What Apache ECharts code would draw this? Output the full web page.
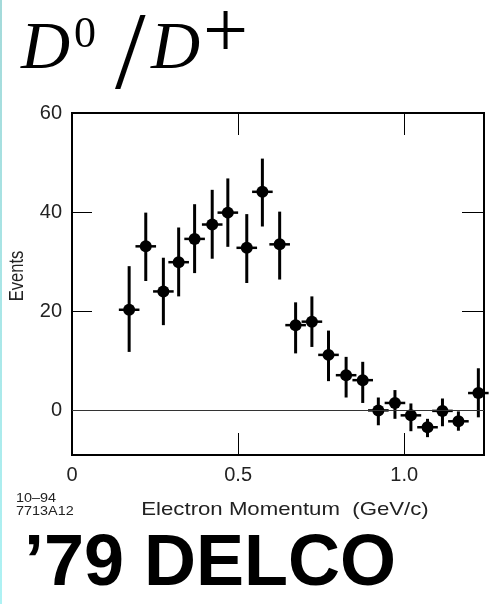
<!DOCTYPE html>
<html>
<head>
<meta charset="utf-8">
<title>D0/D+ electron momentum spectrum — DELCO 1979</title>
<script src="https://cdn.jsdelivr.net/npm/echarts@6/dist/echarts.min.js"></script>
<style>
  html, body { margin: 0; padding: 0; background: #fff; }
  #chart { width: 499px; height: 604px; }
</style>
</head>
<body>
<div id="chart"></div>
<script>
// Electron momentum bin centres (GeV/c)
const momentum = [0.172, 0.222, 0.275, 0.321, 0.369, 0.422, 0.469, 0.526, 0.573, 0.625, 0.673,
                  0.722, 0.772, 0.825, 0.875, 0.922, 0.972, 1.020, 1.070, 1.115, 1.163, 1.223];
// Events per bin
const events   = [20.3, 33.1, 24.0, 29.9, 34.6, 37.5, 39.9, 32.8, 44.1, 33.5, 17.2,
                  17.9, 11.2, 7.1, 6.1, 0.0, 1.5, -1.0, -3.4, -0.1, -2.2, 3.5];
// Upper / lower ends of the error bars
const errHigh  = [29.1, 39.9, 30.8, 36.9, 41.6, 44.5, 46.8, 39.6, 50.8, 40.1, 21.8,
                  23.0, 16.1, 10.8, 9.8, 2.6, 4.1, 1.4, -1.7, 2.4, -0.2, 8.5];
const errLow   = [11.8, 26.1, 17.2, 23.0, 27.7, 30.6, 33.0, 25.7, 37.1, 26.4, 11.5,
                  12.8, 5.9, 2.6, 1.5, -3.0, -1.7, -4.2, -5.4, -3.2, -4.1, -1.4];
// Half width of a momentum bin (GeV/c)
const binHalfWidth = 0.031;

// Axis ticks and labels
const xTickValues  = [0.5, 1.0];
const xLabelValues = [0, 0.5, 1.0];
const yTickValues  = [20, 40];
const yLabelValues = [0, 20, 40, 60];

const chart = echarts.init(document.getElementById('chart'), null, { renderer: 'canvas' });

const sans = '"Liberation Sans", Arial, Helvetica, sans-serif';
const serif = '"Liberation Serif", "Times New Roman", serif';

const errorData = momentum.map((m, i) => [m, errLow[i], errHigh[i], events[i]]);
const pointData = momentum.map((m, i) => [m, events[i]]);

const tickStyle = { color: '#000', width: 1 };
const hiddenLine = { show: false, onZero: false };

const option = {
  backgroundColor: '#fff',
  animation: false,
  grid: {
    left: 72, top: 113, right: 15, bottom: 149,
    show: true, borderColor: '#000', borderWidth: 2, backgroundColor: 'transparent',
    containLabel: false, outerBoundsMode: 'none'
  },
  xAxis: [
    {
      type: 'value', min: 0, max: 1.24, position: 'bottom',
      axisLine: hiddenLine,
      splitLine: { show: false },
      axisTick: { show: true, inside: true, length: 22, customValues: xTickValues, lineStyle: tickStyle },
      axisLabel: {
        show: true, customValues: xLabelValues, margin: 10,
        color: '#222', fontFamily: sans, fontSize: 20,
        formatter: v => (v === 0 ? '0' : v.toFixed(1))
      }
    },
    {
      type: 'value', min: 0, max: 1.24, position: 'top',
      axisLine: hiddenLine,
      splitLine: { show: false },
      axisTick: { show: true, inside: true, length: 22, customValues: xTickValues, lineStyle: tickStyle },
      axisLabel: { show: false }
    }
  ],
  yAxis: [
    {
      type: 'value', min: -9, max: 60, position: 'left',
      axisLine: hiddenLine,
      splitLine: { show: false },
      axisTick: { show: true, inside: true, length: 20, customValues: yTickValues, lineStyle: tickStyle },
      axisLabel: {
        show: true, customValues: yLabelValues, margin: 10,
        color: '#222', fontFamily: sans, fontSize: 20
      }
    },
    {
      type: 'value', min: -9, max: 60, position: 'right',
      axisLine: hiddenLine,
      splitLine: { show: false },
      axisTick: { show: true, inside: true, length: 22, customValues: yTickValues, lineStyle: tickStyle },
      axisLabel: { show: false }
    }
  ],
  series: [
    {
      // zero baseline across the frame
      type: 'line', data: [], silent: true,
      markLine: {
        silent: true, symbol: 'none', label: { show: false },
        lineStyle: { color: '#333', width: 1, type: 'solid' },
        data: [{ yAxis: 0 }]
      }
    },
    {
      type: 'custom',
      clip: false,
      data: errorData,
      renderItem: (params, api) => {
        const x = api.value(0), lo = api.value(1), hi = api.value(2), y = api.value(3);
        const top = api.coord([x, hi]);
        const bot = api.coord([x, lo]);
        const left = api.coord([x - binHalfWidth, y]);
        const right = api.coord([x + binHalfWidth, y]);
        return {
          type: 'group',
          children: [
            { type: 'line', shape: { x1: top[0], y1: top[1], x2: bot[0], y2: bot[1] }, style: { stroke: '#000', lineWidth: 3 } },
            { type: 'line', shape: { x1: left[0], y1: left[1], x2: right[0], y2: right[1] }, style: { stroke: '#000', lineWidth: 2.5 } }
          ]
        };
      },
      z: 3
    },
    {
      type: 'scatter',
      data: pointData,
      symbol: 'circle',
      symbolSize: 12,
      itemStyle: { color: '#000', opacity: 1 },
      z: 4
    }
  ],
  graphic: [
    {
      type: 'rect', left: 0, top: 0, silent: true,
      shape: { width: 2, height: 604 },
      style: {
        fill: new echarts.graphic.LinearGradient(0, 0, 0, 1, [
          { offset: 0, color: '#a4dada' },
          { offset: 1, color: '#aef2f4' }
        ])
      }
    },
    // title D^0 / D^+
    { type: 'text', left: 21, top: 16, style: { text: 'D', font: 'italic 68px ' + serif, fill: '#000' } },
    { type: 'text', left: 74, top: 13, style: { text: '0', font: '44px ' + serif, fill: '#000' } },
    { type: 'text', left: 115, top: 4, style: { text: '/', font: '110px ' + serif, fill: '#000' } },
    { type: 'text', left: 151, top: 16, style: { text: 'D', font: 'italic 68px ' + serif, fill: '#000' } },
    { type: 'text', left: 203, top: -4, style: { text: '+', font: '80px ' + serif, fill: '#000' } },
    // y-axis title
    {
      type: 'text', x: 18, y: 276, rotation: Math.PI / 2, scaleY: 1.2,
      style: { text: 'Events', font: '16.5px ' + sans, fill: '#222', align: 'center', verticalAlign: 'middle' }
    },
    // x-axis title
    {
      type: 'text', x: 285, y: 510, scaleX: 1.2,
      style: { text: 'Electron Momentum  (GeV/c)', font: '18.5px ' + sans, fill: '#222', align: 'center', verticalAlign: 'middle' }
    },
    // figure reference
    {
      type: 'text', x: 16, y: 492, scaleX: 1.2,
      style: { text: '10–94\n7713A12', font: '12px ' + sans, fill: '#222', lineHeight: 13, align: 'left', verticalAlign: 'top' }
    },
    // experiment label
    {
      type: 'text', x: 24, y: 565,
      style: { text: '’79 DELCO', font: 'bold 72px ' + sans, fill: '#000', align: 'left', verticalAlign: 'middle' }
    }
  ]
};

chart.setOption(option);
</script>
</body>
</html>
